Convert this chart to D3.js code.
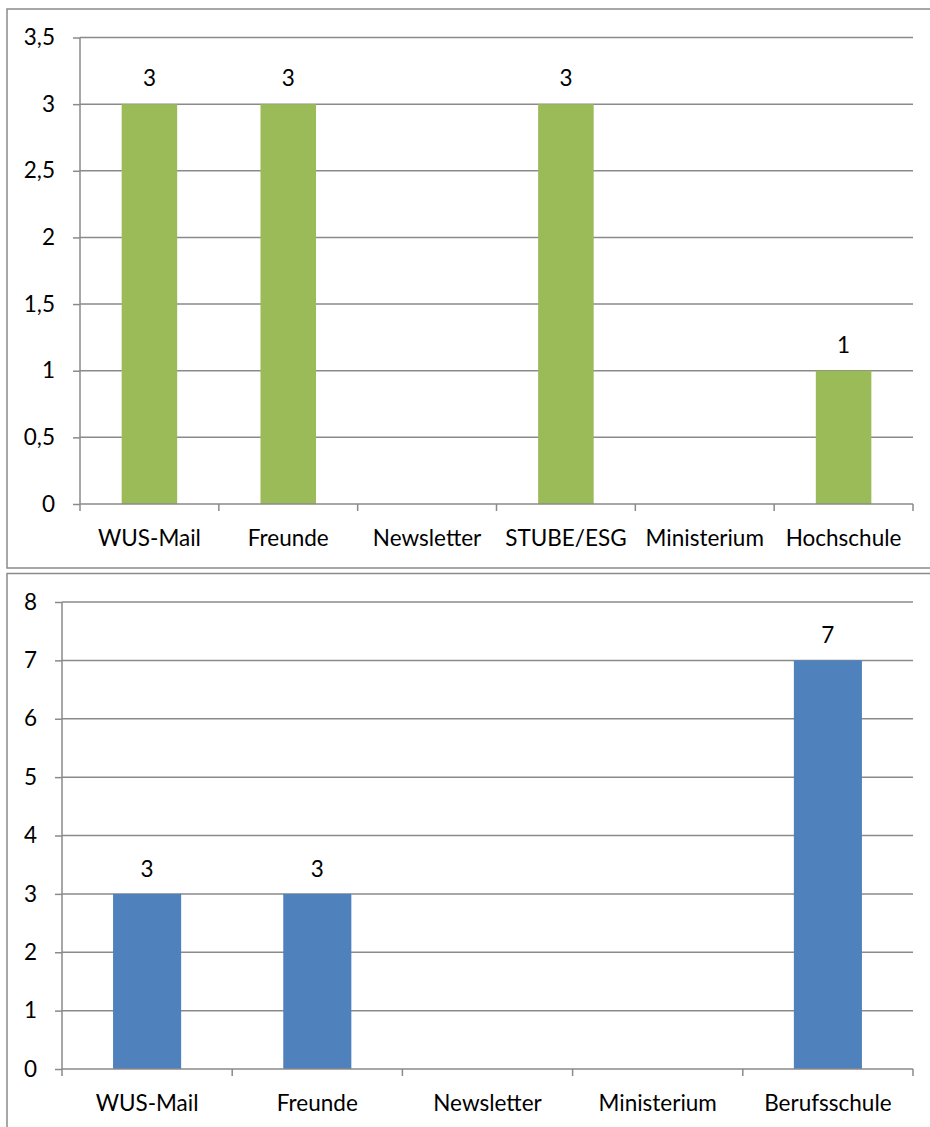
<!DOCTYPE html>
<html>
<head>
<meta charset="utf-8">
<script src="https://cdn.jsdelivr.net/npm/d3@7/dist/d3.min.js"></script>
<style>
  html, body { margin: 0; padding: 0; background: #fff; }
  svg { display: block; }
  text { font-family: Lato, "Open Sans", sans-serif; fill: #000; }
</style>
</head>
<body>
<svg id="chart" width="930" height="1127"></svg>
<script>
// Chart 1 (green)
const categoriesA = ["WUS-Mail", "Freunde", "Newsletter", "STUBE/ESG", "Ministerium", "Hochschule"];
const valuesA = [3, 3, 0, 3, 0, 1];
const ticksA = [0, 0.5, 1, 1.5, 2, 2.5, 3, 3.5];

// Chart 2 (blue)
const categoriesB = ["WUS-Mail", "Freunde", "Newsletter", "Ministerium", "Berufsschule"];
const valuesB = [3, 3, 0, 0, 7];
const ticksB = [0, 1, 2, 3, 4, 5, 6, 7, 8];

const fmt = d => String(d).replace(".", ",");
const svg = d3.select("#chart");
const GRID = "#8a8a8a";
const FS = 22.5;

function drawChart(cfg) {
  const g = svg.append("g");

  // outer frame (runs off the right edge)
  g.append("rect")
    .attr("x", cfg.frame.x).attr("y", cfg.frame.y)
    .attr("width", cfg.frame.w).attr("height", cfg.frame.h)
    .attr("fill", "none").attr("stroke", GRID).attr("stroke-width", 1.5);

  const x = d3.scaleBand().domain(cfg.categories).range([cfg.left, cfg.right]).paddingInner(0.6).paddingOuter(0.3);
  const xb = d3.scaleBand().domain(cfg.categories).range([cfg.left, cfg.right]);
  const y = d3.scaleLinear().domain([0, cfg.max]).range([cfg.bottom, cfg.top]);

  // horizontal gridlines
  g.append("g").selectAll("line").data(cfg.ticks.filter(t => t > 0)).join("line")
    .attr("x1", cfg.left).attr("x2", cfg.right)
    .attr("y1", d => y(d)).attr("y2", d => y(d))
    .attr("stroke", GRID).attr("stroke-width", 1.5);

  // bars
  g.append("g").selectAll("rect").data(cfg.values).join("rect")
    .attr("x", (d, i) => x(cfg.categories[i]))
    .attr("width", x.bandwidth())
    .attr("y", d => y(d))
    .attr("height", d => cfg.bottom - y(d))
    .attr("fill", cfg.color);

  // value labels on non-zero bars
  g.append("g").selectAll("text").data(cfg.values.map((v, i) => ({v, c: cfg.categories[i]})).filter(d => d.v > 0)).join("text")
    .attr("x", d => x(d.c) + x.bandwidth() / 2)
    .attr("y", d => y(d.v) - cfg.labelGap)
    .attr("text-anchor", "middle")
    .attr("font-size", FS)
    .text(d => d.v);

  // y axis
  const yAxis = d3.axisLeft(y).tickValues(cfg.ticks).tickFormat(fmt).tickSize(7).tickPadding(18);
  const ya = g.append("g").attr("transform", `translate(${cfg.left},0)`).call(yAxis);
  ya.select(".domain").attr("stroke", GRID).attr("stroke-width", 1.5).attr("d", `M0,${cfg.top}V${cfg.bottom}`);
  ya.selectAll(".tick line").attr("stroke", GRID).attr("stroke-width", 1.5);
  ya.selectAll(".tick text").attr("font-size", FS).attr("font-family", "Lato, sans-serif").attr("fill", "#000");

  // x axis with ticks at category boundaries
  const xa = g.append("g").attr("transform", `translate(0,${cfg.bottom})`);
  xa.append("line").attr("x1", cfg.left).attr("x2", cfg.right)
    .attr("stroke", GRID).attr("stroke-width", 1.5);
  const bounds = cfg.categories.map(c => xb(c)).concat([cfg.right]);
  xa.selectAll("line.tk").data(bounds).join("line").attr("class", "tk")
    .attr("x1", d => d).attr("x2", d => d).attr("y1", 0).attr("y2", 7)
    .attr("stroke", GRID).attr("stroke-width", 1.5);
  xa.selectAll("text").data(cfg.categories).join("text")
    .attr("x", d => xb(d) + xb.bandwidth() / 2)
    .attr("y", 42)
    .attr("text-anchor", "middle")
    .attr("font-size", FS)
    .text(d => d);
}

drawChart({
  categories: categoriesA, values: valuesA, ticks: ticksA, max: 3.5,
  color: "#9BBB59", labelGap: 18,
  left: 80, right: 913, top: 37.5, bottom: 504,
  frame: {x: 7, y: 9, w: 940, h: 559}
});

drawChart({
  categories: categoriesB, values: valuesB, ticks: ticksB, max: 8,
  color: "#4F81BD", labelGap: 17,
  left: 62, right: 913, top: 602, bottom: 1069,
  frame: {x: 7, y: 573.5, w: 940, h: 600}
});
</script>
</body>
</html>
